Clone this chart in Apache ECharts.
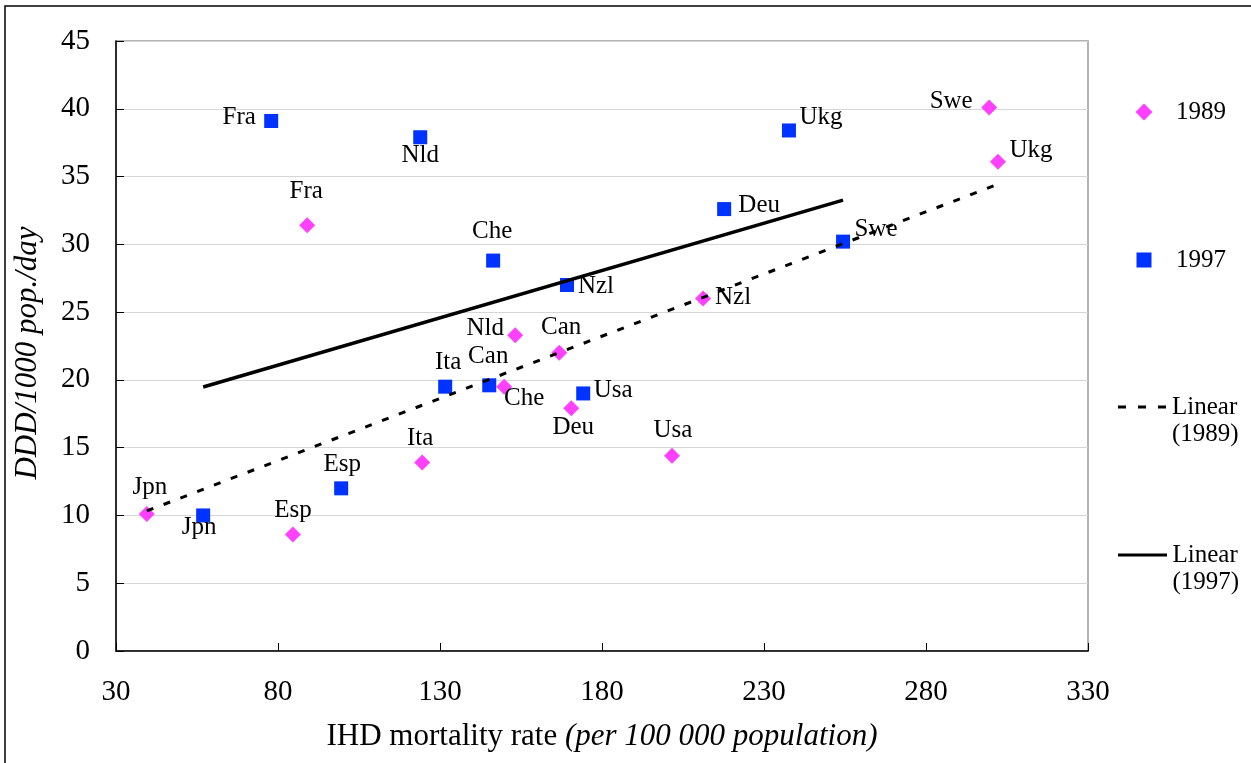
<!DOCTYPE html>
<html>
<head>
<meta charset="utf-8">
<title>Antibiotic use vs IHD mortality</title>
<script src="https://cdn.jsdelivr.net/npm/echarts@6.0.0/dist/echarts.min.js"></script>
<style>
  html, body { margin: 0; padding: 0; background: #fff; }
  #chart { width: 1251px; height: 763px; }
</style>
</head>
<body>
<div id="chart"></div>
<script>
// Country codes and values for each survey year
const countries1989 = ['Fra', 'Swe', 'Ukg', 'Nzl', 'Nld', 'Can', 'Che', 'Deu', 'Ita', 'Usa', 'Jpn', 'Esp'];
const ihd1989 = [89.0, 299.5, 302.2, 211.2, 153.2, 166.8, 149.8, 170.5, 124.5, 201.6, 39.5, 84.6];
const ddd1989 = [31.4, 40.1, 36.1, 26.0, 23.3, 22.0, 19.5, 17.9, 13.9, 14.4, 10.1, 8.6];

const countries1997 = ['Fra', 'Nld', 'Ukg', 'Deu', 'Swe', 'Che', 'Nzl', 'Ita', 'Can', 'Usa', 'Esp', 'Jpn'];
const ihd1997 = [77.9, 123.9, 237.7, 217.7, 254.4, 146.4, 169.2, 131.6, 145.2, 174.2, 99.5, 56.9];
const ddd1997 = [39.1, 37.9, 38.4, 32.6, 30.2, 28.8, 27.0, 19.5, 19.6, 19.0, 12.0, 10.0];

// Axis ticks
const xTicks = [30, 80, 130, 180, 230, 280, 330];
const yTicks = [0, 5, 10, 15, 20, 25, 30, 35, 40, 45];

// Label placement (pixel offset of each country tag from its marker)
const labelOffset1989 = {
  Fra: [-1, -34], Swe: [-38, -6], Ukg: [33, -11], Nzl: [30, -1], Nld: [-30, -7], Can: [2, -25],
  Che: [20, 12], Deu: [2, 19], Ita: [-2, -24], Usa: [1, -25], Jpn: [3, -27], Esp: [0, -24]
};
const labelOffset1997 = {
  Fra: [-32, -4], Nld: [0, 18], Ukg: [32, -13], Deu: [35, -4], Swe: [33, -12], Che: [-1, -29],
  Nzl: [29, 1], Ita: [3, -24], Can: [-1, -29], Usa: [30, -3], Esp: [1, -24], Jpn: [-4, 12]
};

const SERIF = "'Liberation Serif', 'Times New Roman', Times, serif";
const PINK = '#FF40FF';
const BLUE = '#0033FF';

// Legend key glyphs for the two trend lines
const DASH_KEY = 'path://M0,0H8V3H0Z M20,0H28V3H20Z M40,0H48V3H40Z';
const SOLID_KEY = 'path://M0,0H49V3H0Z';

// Least-squares trend line spanning the observed x range
function linearTrend(xs, ys) {
  const n = xs.length;
  const mx = xs.reduce((a, b) => a + b, 0) / n;
  const my = ys.reduce((a, b) => a + b, 0) / n;
  let sxy = 0, sxx = 0;
  for (let i = 0; i < n; i++) {
    sxy += (xs[i] - mx) * (ys[i] - my);
    sxx += (xs[i] - mx) * (xs[i] - mx);
  }
  const slope = sxy / sxx;
  const icpt = my - slope * mx;
  const x0 = Math.min(...xs), x1 = Math.max(...xs);
  return [[x0, icpt + slope * x0], [x1, icpt + slope * x1]];
}

function pointData(names, xs, ys, offsets) {
  return names.map((n, i) => ({
    name: n,
    value: [xs[i], ys[i]],
    label: { offset: offsets[n] }
  }));
}

const labelStyle = {
  show: true,
  position: 'inside',
  formatter: p => p.name,
  color: '#000',
  fontFamily: SERIF,
  fontSize: 25
};

const legendFont = { color: '#000', fontFamily: SERIF, fontSize: 25, lineHeight: 27 };

// Marker keys: icon centred at x=1144, text starting at x=1176
function markerLegend(name, centerY, icon, box) {
  return {
    data: [{ name: name, icon: icon }],
    orient: 'vertical',
    left: 1144 - box / 2,
    top: centerY - 13.5,
    padding: 0,
    itemWidth: box,
    itemHeight: box,
    symbolKeepAspect: true,
    selectedMode: false,
    formatter: n => '{t|' + n + '}',
    textStyle: Object.assign({}, legendFont, {
      rich: { t: Object.assign({}, legendFont, { padding: [0, 0, 0, 1176 - 1144 - box / 2 - 5] }) }
    })
  };
}

// Trend-line keys: a blank first line keeps "Linear" level with the key
function lineLegend(name, top, icon) {
  return {
    data: [{ name: name, icon: icon }],
    orient: 'vertical',
    left: 1118,
    top: top,
    padding: 0,
    itemWidth: 50,
    itemHeight: 3,
    selectedMode: false,
    formatter: n => '\n' + n.replace(' ', '\n'),
    textStyle: legendFont
  };
}

const chart = echarts.init(document.getElementById('chart'), null, { renderer: 'canvas' });

chart.setOption({
  animation: false,
  backgroundColor: '#fff',
  graphic: [{
    type: 'rect',
    silent: true,
    z: -10,
    shape: { x: 5, y: 6, width: 1400, height: 900 },
    style: { fill: 'none', stroke: '#000', lineWidth: 1.5 }
  }],
  grid: {
    left: 116, right: 163, top: 41, bottom: 112,
    show: true,
    borderColor: '#9a9a9a',
    borderWidth: 1.5,
    backgroundColor: 'transparent'
  },
  legend: [
    markerLegend('1989', 112, 'diamond', 17),
    markerLegend('1997', 260, 'rect', 15),
    lineLegend('Linear (1989)', 366.5, DASH_KEY),
    lineLegend('Linear (1997)', 514.5, SOLID_KEY)
  ],
  xAxis: {
    type: 'value',
    min: xTicks[0],
    max: xTicks[xTicks.length - 1],
    interval: xTicks[1] - xTicks[0],
    name: '{r|IHD mortality rate }{i|(per 100 000 population)}',
    nameLocation: 'middle',
    nameGap: 70,
    nameTextStyle: {
      rich: {
        r: { fontFamily: SERIF, fontSize: 31, color: '#000' },
        i: { fontFamily: SERIF, fontSize: 31, color: '#000', fontStyle: 'italic' }
      }
    },
    axisLine: { show: true, onZero: false, lineStyle: { color: '#000', width: 1.5 } },
    axisTick: { show: true, inside: true, length: 8, lineStyle: { color: '#000', width: 1 } },
    axisLabel: { color: '#000', fontFamily: SERIF, fontSize: 29, margin: 27 },
    splitLine: { show: false }
  },
  yAxis: {
    type: 'value',
    min: yTicks[0],
    max: yTicks[yTicks.length - 1],
    interval: yTicks[1] - yTicks[0],
    name: 'DDD/1000 pop./day',
    nameLocation: 'middle',
    nameGap: 73,
    nameTextStyle: {
      color: '#000', fontFamily: SERIF, fontSize: 31, fontStyle: 'italic',
      padding: [0, 14, 0, 0]
    },
    axisLine: { show: true, lineStyle: { color: '#000', width: 1.5 } },
    axisTick: { show: true, inside: true, length: 8, lineStyle: { color: '#000', width: 1 } },
    axisLabel: { color: '#000', fontFamily: SERIF, fontSize: 29, margin: 26 },
    splitLine: { show: true, lineStyle: { color: '#d6d6d6', width: 1.2 } }
  },
  series: [
    {
      name: '1989',
      type: 'scatter',
      symbol: 'diamond',
      symbolSize: 16,
      itemStyle: { color: PINK, opacity: 1 },
      label: labelStyle,
      z: 2,
      data: pointData(countries1989, ihd1989, ddd1989, labelOffset1989)
    },
    {
      name: '1997',
      type: 'scatter',
      symbol: 'rect',
      symbolSize: 14,
      itemStyle: { color: BLUE, opacity: 1 },
      label: labelStyle,
      z: 2,
      data: pointData(countries1997, ihd1997, ddd1997, labelOffset1997)
    },
    {
      name: 'Linear (1989)',
      type: 'line',
      symbol: 'none',
      silent: true,
      z: 5,
      itemStyle: { color: '#000' },
      lineStyle: { color: '#000', width: 3, type: [7, 11] },
      data: linearTrend(ihd1989, ddd1989)
    },
    {
      name: 'Linear (1997)',
      type: 'line',
      symbol: 'none',
      silent: true,
      z: 5,
      itemStyle: { color: '#000' },
      lineStyle: { color: '#000', width: 3.5 },
      data: linearTrend(ihd1997, ddd1997)
    }
  ]
});
</script>
</body>
</html>
